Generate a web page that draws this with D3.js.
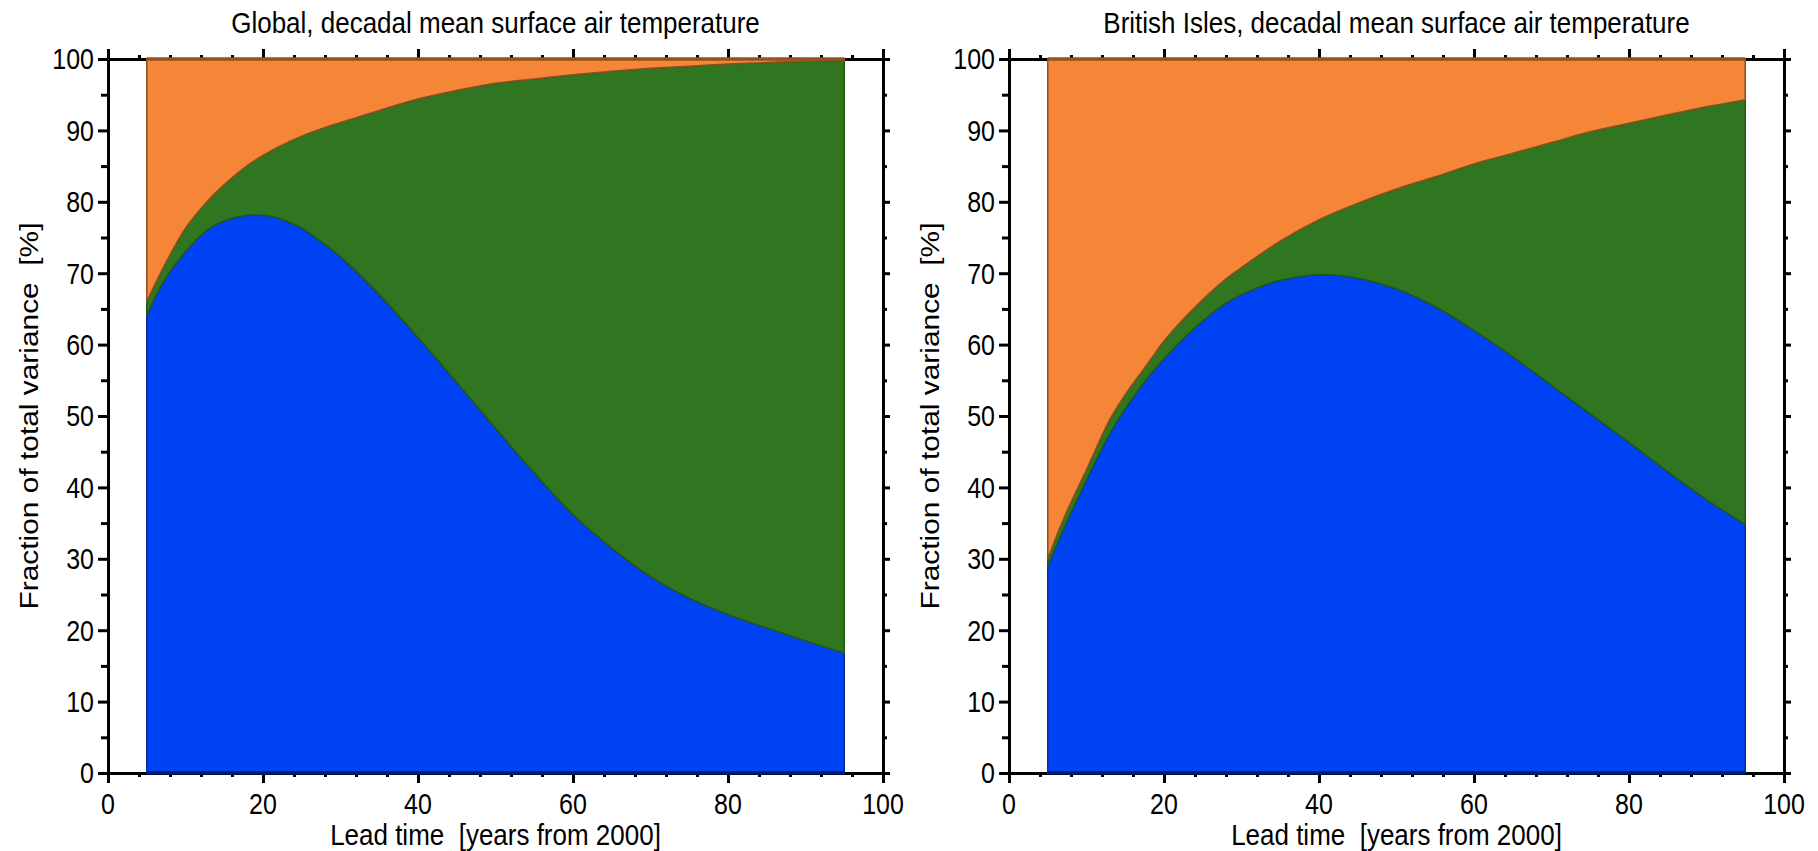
<!DOCTYPE html>
<html>
<head>
<meta charset="utf-8">
<script src="https://cdn.jsdelivr.net/npm/d3@7"></script>
<style>
  body { margin: 0; background: #fff; }
  text { font-family: "Liberation Sans", Arial, sans-serif; fill: #000; white-space: pre; }
</style>
</head>
<body>
<svg id="chart" width="1818" height="851"></svg>
<script>
// lead time (years from 2000)
var leadTime = [5, 7, 10, 13, 15, 18, 20, 22, 25, 28, 30, 35, 40, 45, 50, 55, 60, 65, 70, 75, 80, 85, 90, 95]

// Global: upper edge of the blue band and of the green band (%)
var globalBlue = [64, 68.5, 73, 76.2, 77.3, 78.1, 78.1, 77.7, 76.3, 74, 72.3, 67, 61, 54.7, 48.3, 42, 36.2, 31.5, 27.5, 24.5, 22.2, 20.3, 18.5, 16.8]
var globalGreen = [66, 70.5, 76.3, 80.3, 82.4, 85.1, 86.5, 87.7, 89.2, 90.4, 91.1, 92.8, 94.4, 95.6, 96.6, 97.2, 97.8, 98.3, 98.7, 99, 99.3, 99.5, 99.7, 99.8]

// British Isles
var britBlue = [29, 34, 41, 47.5, 51, 55.5, 58, 60.3, 63.3, 65.8, 67, 69, 69.8, 69.3, 67.8, 65.3, 62, 58.3, 54.3, 50.3, 46.3, 42.2, 38.3, 34.8]
var britGreen = [30, 35.5, 42.5, 49.5, 53, 57.5, 60.5, 63, 66.3, 69.2, 70.8, 74.5, 77.5, 79.8, 81.8, 83.5, 85.3, 86.8, 88.3, 89.8, 91, 92.2, 93.3, 94.3]

var titles = ["Global, decadal mean surface air temperature", "British Isles, decadal mean surface air temperature"]
var xLabel = "Lead time  [years from 2000]"
var yLabel = "Fraction of total variance  [%]"

var xMajor = [0, 20, 40, 60, 80, 100]
var xMinor = d3.range(0, 101, 4).filter(v => v % 20)
var yMajor = d3.range(0, 101, 10)
var yMinor = d3.range(5, 100, 10)

var svg = d3.select("#chart")
var stretch = 1.15

function label(g, x, y, s, anchor, size, rot) {
    g.append("text")
        .attr("transform", `translate(${x},${y}) scale(1,${stretch})` + (rot ? " rotate(-90)" : ""))
        .attr("text-anchor", anchor)
        .style("font-size", size + "px")
        .text(s)
}

function panel(left, title, blue, green) {
    var right = left + 775, top = 59, bottom = 773
    var x = d3.scaleLinear().domain([0, 100]).range([left, right])
    var y = d3.scaleLinear().domain([0, 100]).range([bottom, top])
    var g = svg.append("g")

    function axis(gen, pos, major, minor, bigLen, smallLen) {
        var a = g.append("g").attr("transform", pos)
            .call(gen.tickValues(major).tickSize(bigLen).tickSizeOuter(0).tickFormat(""))
        a.select(".domain").attr("stroke-width", 3)
        a.selectAll(".tick line").attr("stroke-width", 3)
        var b = g.append("g").attr("transform", pos)
            .call(gen.tickValues(minor).tickSize(smallLen).tickSizeOuter(0).tickFormat(""))
        b.select(".domain").remove()
        b.selectAll(".tick line").attr("stroke-width", 3)
    }
    axis(d3.axisLeft(y), `translate(${left},0)`, yMajor, yMinor, 10, 7)
    axis(d3.axisRight(y), `translate(${right},0)`, yMajor, yMinor, 7, 4)
    axis(d3.axisTop(x), `translate(0,${top})`, xMajor, xMinor, 10, 4)
    axis(d3.axisBottom(x), `translate(0,${bottom})`, xMajor, xMinor, 10, 4)

    var rows = leadTime.map((t, i) => ({ t: t, b: blue[i], g: green[i] }))
    var curve = d3.curveCatmullRom.alpha(0.5)

    var bands = [
        { fill: "#0043f5", stroke: "#0b2c8c", lo: d => 0, hi: d => d.b },
        { fill: "#30751f", stroke: "#245716", lo: d => d.b, hi: d => d.g },
        { fill: "#f58537", stroke: "#8d4f20", lo: d => d.g, hi: d => 100 }
    ]
    bands.forEach(bd => {
        g.append("path")
            .datum(rows)
            .attr("fill", bd.fill)
            .attr("stroke", bd.stroke)
            .attr("stroke-width", 1.5)
            .attr("d", d3.area().curve(curve).x(d => x(d.t)).y0(d => y(bd.lo(d))).y1(d => y(bd.hi(d))))
    })

    // edge lines on top and bottom of the filled region
    var ends = d3.extent(leadTime)
    g.append("line").attr("x1", x(ends[0])).attr("x2", x(ends[1]))
        .attr("y1", y(100)).attr("y2", y(100)).attr("stroke", "#935321").attr("stroke-width", 3.5)
    g.append("line").attr("x1", x(ends[0])).attr("x2", x(ends[1]))
        .attr("y1", y(0)).attr("y2", y(0)).attr("stroke", "#001b6e").attr("stroke-width", 3.5)

    // tick labels
    yMajor.forEach(v => label(g, left - 14, y(v) + 10.3, v, "end", 25))
    xMajor.forEach(v => label(g, x(v), 814, v, "middle", 25))

    label(g, (left + right) / 2, 33, title, "middle", 26)
    label(g, (left + right) / 2, 845, xLabel, "middle", 26)
    label(g, left - 70, (top + bottom) / 2, yLabel, "middle", 26, true)
}

panel(108, titles[0], globalBlue, globalGreen)
panel(1009, titles[1], britBlue, britGreen)
</script>
</body>
</html>
